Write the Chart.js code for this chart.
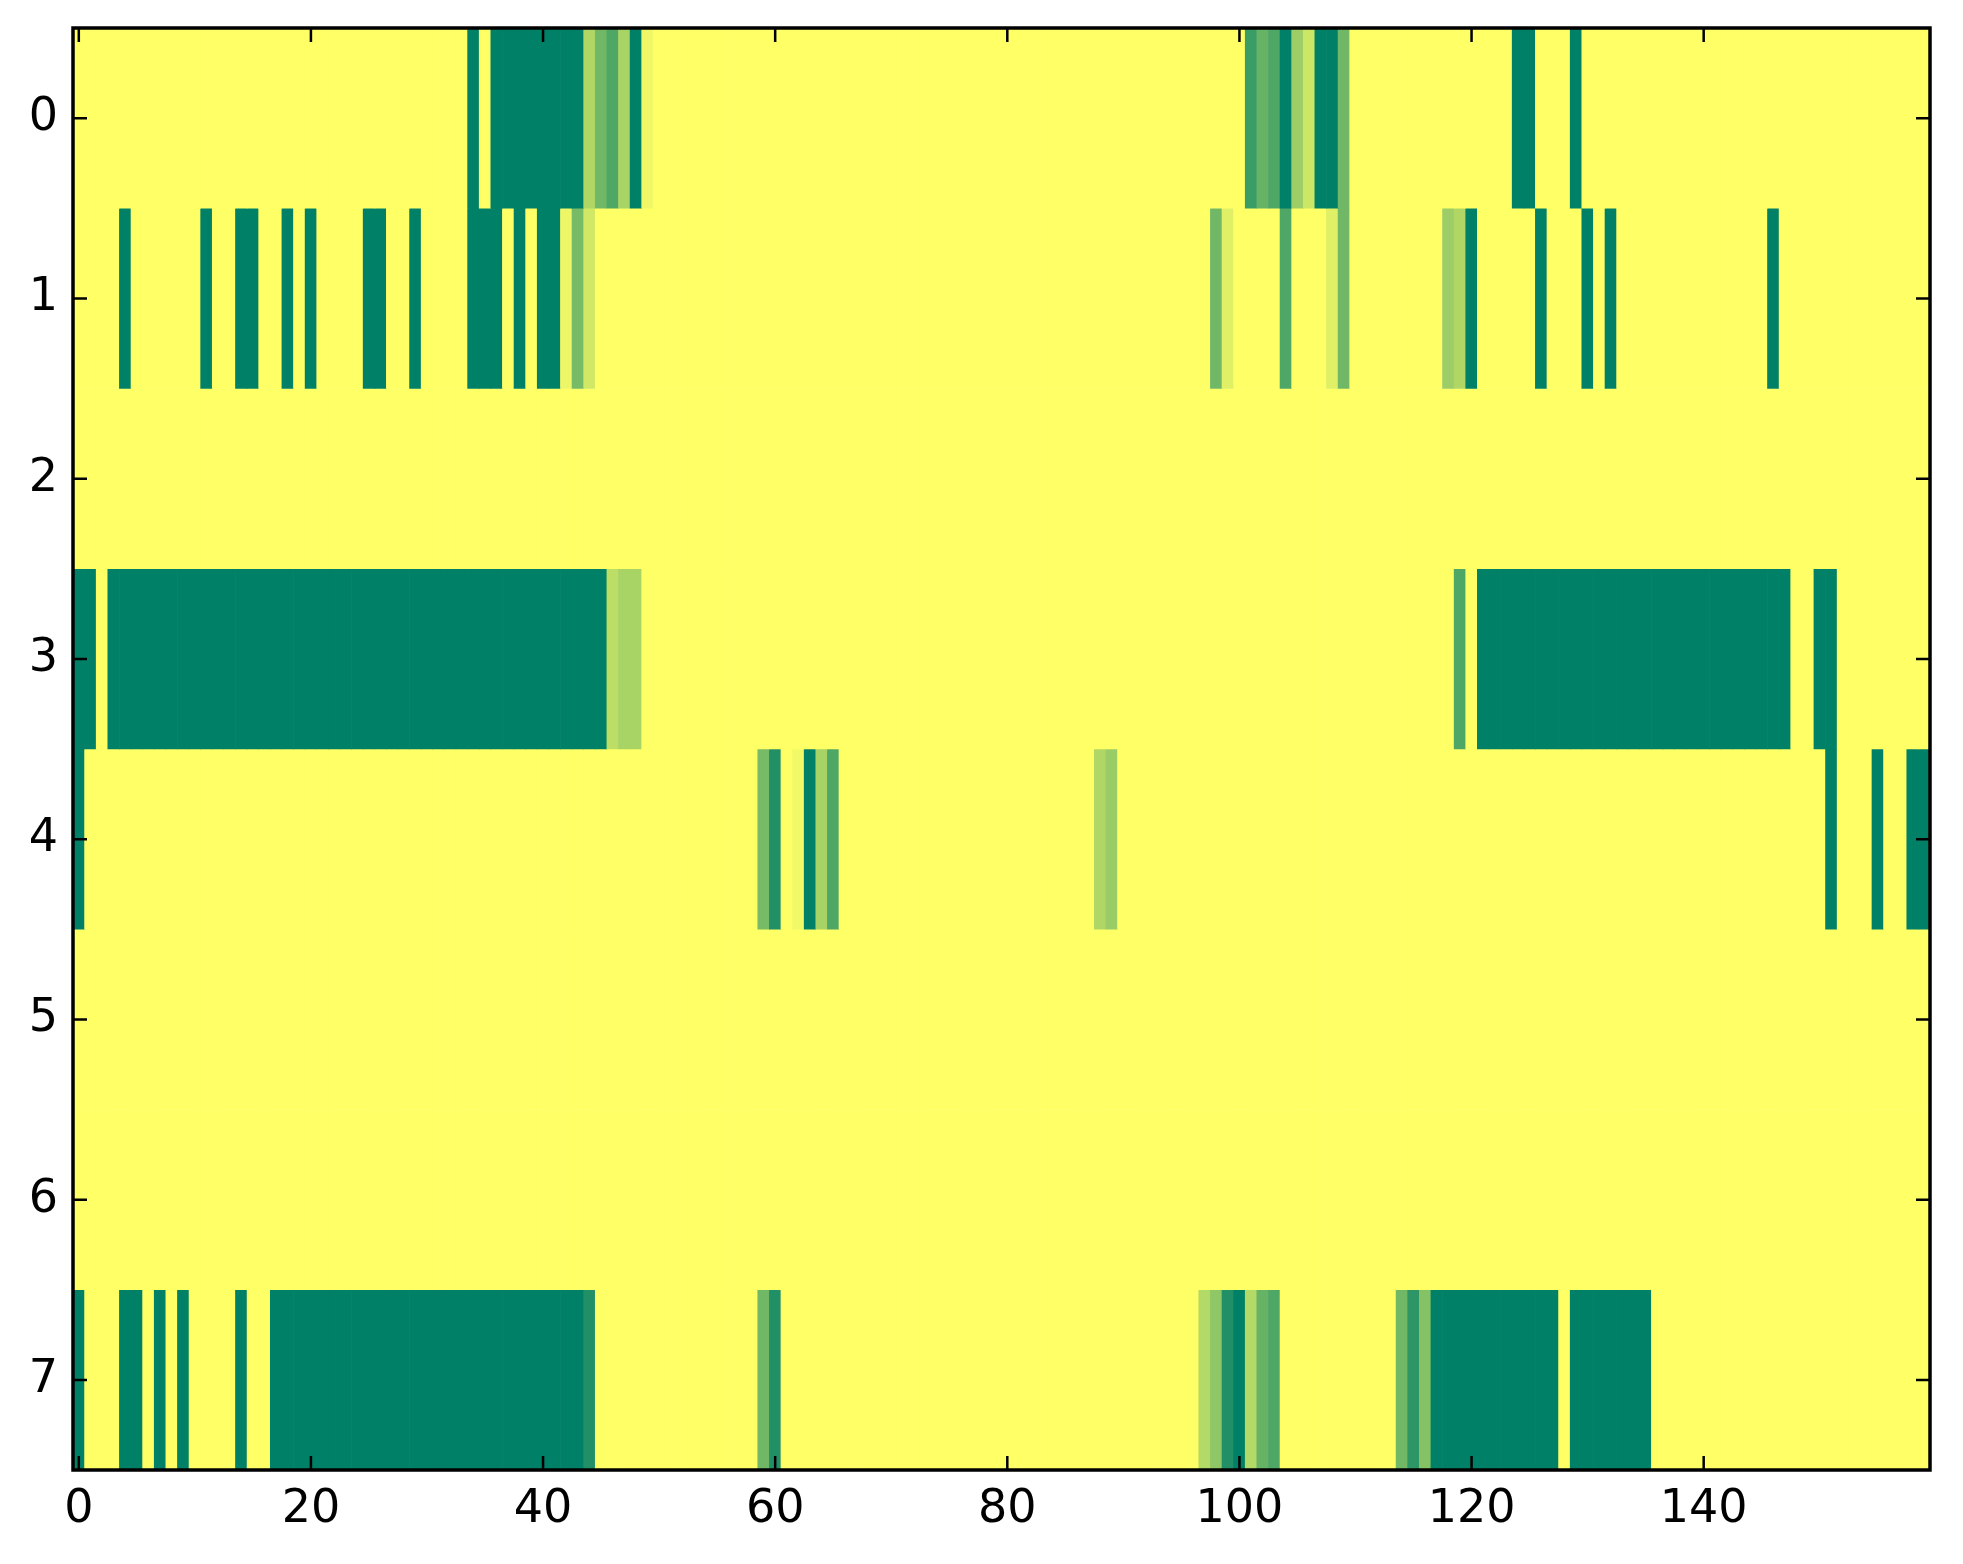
<!DOCTYPE html>
<html>
<head>
<meta charset="utf-8">
<script src="https://cdn.jsdelivr.net/npm/chart.js@4.4.1/dist/chart.umd.min.js"></script>
<style>
  html, body { margin: 0; padding: 0; background: #ffffff; }
  #wrap { width: 1963px; height: 1564px; }
</style>
</head>
<body>
<div id="wrap"><canvas id="myChart"></canvas></div>
<script>
// tick labels
var xTicks = [0, 20, 40, 60, 80, 100, 120, 140];
var yTicks = [0, 1, 2, 3, 4, 5, 6, 7];

// one row of the image per array, 160 columns each, values 0..1 (summer colormap)
var row0 = [
  1,1,1,1,1,1,1,1,1,1, 1,1,1,1,1,1,1,1,1,1, 1,1,1,1,1,1,1,1,1,1, 1,1,1,1,0,1,0,0,0,0,
  0,0,0,0,0.69,0.44,0.31,0.66,0,0.94, 1,1,1,1,1,1,1,1,1,1, 1,1,1,1,1,1,1,1,1,1, 1,1,1,1,1,1,1,1,1,1,
  1,1,1,1,1,1,1,1,1,1, 1,1,1,1,1,1,1,1,1,1, 1,0.23,0.4,0.31,0,0.61,0.8,0,0,0.44, 1,1,1,1,1,1,1,1,1,1,
  1,1,1,1,0,0,1,1,1,0, 1,1,1,1,1,1,1,1,1,1, 1,1,1,1,1,1,1,1,1,1, 1,1,1,1,1,1,1,1,1,1
];
var row1 = [
  1,1,1,1,0,1,1,1,1,1, 1,0,1,1,0,0,1,1,0,1, 0,1,1,1,1,0,0,1,1,0, 1,1,1,1,0,0,0,1,0,1,
  0,0,0.93,0.47,0.82,1,1,1,1,1, 1,1,1,1,1,1,1,1,1,1, 1,1,1,1,1,1,1,1,1,1, 1,1,1,1,1,1,1,1,1,1,
  1,1,1,1,1,1,1,1,1,1, 1,1,1,1,1,1,1,1,0.44,0.88, 1,1,1,1,0.31,1,1,1,0.88,0.44, 1,1,1,1,1,1,1,1,0.61,0.69,
  0,1,1,1,1,1,0,1,1,1, 0,1,0,1,1,1,1,1,1,1, 1,1,1,1,1,1,0,1,1,1, 1,1,1,1,1,1,1,1,1,1
];
var row2 = [
  1,1,1,1,1,1,1,1,1,1, 1,1,1,1,1,1,1,1,1,1, 1,1,1,1,1,1,1,1,1,1, 1,1,1,1,1,1,1,1,1,1,
  1,1,1,1,1,1,1,1,1,1, 1,1,1,1,1,1,1,1,1,1, 1,1,1,1,1,1,1,1,1,1, 1,1,1,1,1,1,1,1,1,1,
  1,1,1,1,1,1,1,1,1,1, 1,1,1,1,1,1,1,1,1,1, 1,1,1,1,1,1,1,1,1,1, 1,1,1,1,1,1,1,1,1,1,
  1,1,1,1,1,1,1,1,1,1, 1,1,1,1,1,1,1,1,1,1, 1,1,1,1,1,1,1,1,1,1, 1,1,1,1,1,1,1,1,1,1
];
var row3 = [
  0,0,1,0,0,0,0,0,0,0, 0,0,0,0,0,0,0,0,0,0, 0,0,0,0,0,0,0,0,0,0, 0,0,0,0,0,0,0,0,0,0,
  0,0,0,0,0,0,0.74,0.66,0.66,1, 1,1,1,1,1,1,1,1,1,1, 1,1,1,1,1,1,1,1,1,1, 1,1,1,1,1,1,1,1,1,1,
  1,1,1,1,1,1,1,1,1,1, 1,1,1,1,1,1,1,1,1,1, 1,1,1,1,1,1,1,1,1,1, 1,1,1,1,1,1,1,1,1,0.31,
  1,0,0,0,0,0,0,0,0,0, 0,0,0,0,0,0,0,0,0,0, 0,0,0,0,0,0,0,0,1,1, 0,0,1,1,1,1,1,1,1,1
];
var row4 = [
  0,1,1,1,1,1,1,1,1,1, 1,1,1,1,1,1,1,1,1,1, 1,1,1,1,1,1,1,1,1,1, 1,1,1,1,1,1,1,1,1,1,
  1,1,1,1,1,1,1,1,1,1, 1,1,1,1,1,1,1,1,1,0.47, 0.13,1,0.95,0,0.65,0.31,1,1,1,1, 1,1,1,1,1,1,1,1,1,1,
  1,1,1,1,1,1,1,1,0.69,0.6, 1,1,1,1,1,1,1,1,1,1, 1,1,1,1,1,1,1,1,1,1, 1,1,1,1,1,1,1,1,1,1,
  1,1,1,1,1,1,1,1,1,1, 1,1,1,1,1,1,1,1,1,1, 1,1,1,1,1,1,1,1,1,1, 1,0,1,1,1,0,1,1,0,0
];
var row5 = [
  1,1,1,1,1,1,1,1,1,1, 1,1,1,1,1,1,1,1,1,1, 1,1,1,1,1,1,1,1,1,1, 1,1,1,1,1,1,1,1,1,1,
  1,1,1,1,1,1,1,1,1,1, 1,1,1,1,1,1,1,1,1,1, 1,1,1,1,1,1,1,1,1,1, 1,1,1,1,1,1,1,1,1,1,
  1,1,1,1,1,1,1,1,1,1, 1,1,1,1,1,1,1,1,1,1, 1,1,1,1,1,1,1,1,1,1, 1,1,1,1,1,1,1,1,1,1,
  1,1,1,1,1,1,1,1,1,1, 1,1,1,1,1,1,1,1,1,1, 1,1,1,1,1,1,1,1,1,1, 1,1,1,1,1,1,1,1,1,1
];
var row6 = [
  1,1,1,1,1,1,1,1,1,1, 1,1,1,1,1,1,1,1,1,1, 1,1,1,1,1,1,1,1,1,1, 1,1,1,1,1,1,1,1,1,1,
  1,1,1,1,1,1,1,1,1,1, 1,1,1,1,1,1,1,1,1,1, 1,1,1,1,1,1,1,1,1,1, 1,1,1,1,1,1,1,1,1,1,
  1,1,1,1,1,1,1,1,1,1, 1,1,1,1,1,1,1,1,1,1, 1,1,1,1,1,1,1,1,1,1, 1,1,1,1,1,1,1,1,1,1,
  1,1,1,1,1,1,1,1,1,1, 1,1,1,1,1,1,1,1,1,1, 1,1,1,1,1,1,1,1,1,1, 1,1,1,1,1,1,1,1,1,1
];
var row7 = [
  0,1,1,1,0,0,1,0,1,0, 1,1,1,1,0,1,1,0,0,0, 0,0,0,0,0,0,0,0,0,0, 0,0,0,0,0,0,0,0,0,0,
  0,0,0,0,0.13,1,1,1,1,1, 1,1,1,1,1,1,1,1,1,0.44, 0.13,1,1,1,1,1,1,1,1,1, 1,1,1,1,1,1,1,1,1,1,
  1,1,1,1,1,1,1,1,1,1, 1,1,1,1,1,1,1,0.7,0.56,0.13, 0,0.7,0.4,0.31,1,1,1,1,1,1, 1,1,1,1,0.44,0.18,0.52,0,0,0,
  0,0,0,0,0,0,0,0,1,0, 0,0,0,0,0,0,1,1,1,1, 1,1,1,1,1,1,1,1,1,1, 1,1,1,1,1,1,1,1,1,1
];

var matrix = [row0, row1, row2, row3, row4, row5, row6, row7];

// matplotlib "summer": 0 -> green, 1 -> yellow
function summer(v) {
  var r = Math.round(255 * v);
  var g = Math.round(255 * (0.5 + 0.5 * v));
  return 'rgb(' + r + ',' + g + ',102)';
}

var datasets = matrix.map(function (vals, r) {
  return {
    data: vals.map(function (v, c) { return { x: c, y: [r - 0.5, r + 0.5] }; }),
    backgroundColor: vals.map(summer),
    borderWidth: 0,
    grouped: false,
    barPercentage: 1,
    categoryPercentage: 1
  };
});

// frame + inward ticks on all four sides, like matplotlib classic
var framePlugin = {
  id: 'frame',
  afterDraw: function (chart) {
    var ctx = chart.ctx, a = chart.chartArea;
    var xs = chart.scales.x, ys = chart.scales.y;
    var len = 14;
    ctx.save();
    ctx.strokeStyle = '#000';
    ctx.lineWidth = 2.5;
    ctx.beginPath();
    xTicks.forEach(function (t) {
      var px = xs.getPixelForValue(t);
      ctx.moveTo(px, a.bottom); ctx.lineTo(px, a.bottom - len);
      ctx.moveTo(px, a.top); ctx.lineTo(px, a.top + len);
    });
    yTicks.forEach(function (t) {
      var py = ys.getPixelForValue(t);
      ctx.moveTo(a.left, py); ctx.lineTo(a.left + len, py);
      ctx.moveTo(a.right, py); ctx.lineTo(a.right - len, py);
    });
    ctx.stroke();
    ctx.lineWidth = 3.5;
    ctx.strokeRect(a.left, a.top, a.right - a.left, a.bottom - a.top);
    ctx.restore();
  }
};

Chart.defaults.font.family = 'DejaVu Sans';
Chart.defaults.font.size = 46;
Chart.defaults.color = '#000';

var c = new Chart('myChart', {
  type: 'bar',
  data: { datasets: datasets },
  plugins: [framePlugin],
  options: {
    responsive: true,
    maintainAspectRatio: false,
    animation: false,
    layout: { padding: { top: 28, right: 33, left: 0, bottom: 0 } },
    plugins: { legend: { display: false }, tooltip: { enabled: false } },
    scales: {
      x: {
        type: 'linear',
        min: -0.5,
        max: 159.5,
        offset: false,
        grid: { display: false, drawTicks: false },
        border: { display: false },
        afterBuildTicks: function (s) { s.ticks = xTicks.map(function (v) { return { value: v }; }); },
        afterFit: function (s) { s.height = 94; s.paddingLeft = 0; s.paddingRight = 0; },
        ticks: { padding: 12, maxRotation: 0, autoSkip: false }
      },
      y: {
        type: 'linear',
        min: -0.5,
        max: 7.5,
        reverse: true,
        grid: { display: false, drawTicks: false },
        border: { display: false },
        afterBuildTicks: function (s) { s.ticks = yTicks.map(function (v) { return { value: v }; }); },
        afterFit: function (s) { s.width = 73; s.paddingTop = 0; s.paddingBottom = 0; },
        ticks: { padding: 15, autoSkip: false }
      }
    }
  }
});
</script>
</body>
</html>
